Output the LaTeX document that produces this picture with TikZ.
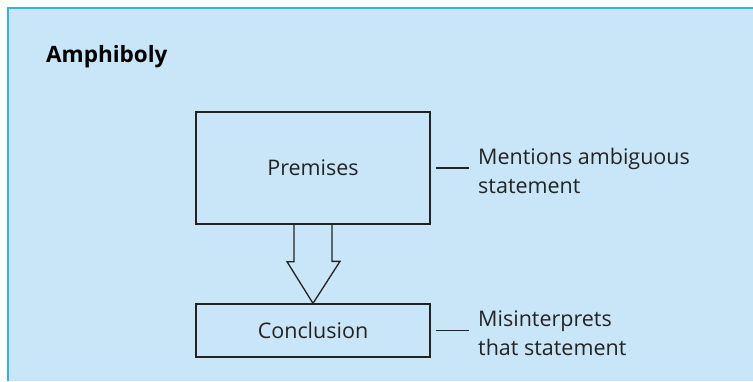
\documentclass[tikz,border=0pt]{standalone}
\usepackage{fontspec}
\setmainfont{Open Sans}
\usepackage{tikz}
\usepackage{color}
\definecolor{panelblue}{RGB}{201,230,248}
\definecolor{rimblue}{RGB}{45,180,235}
\definecolor{ink}{RGB}{35,35,35}

\begin{document}
\begin{tikzpicture}[x=1pt, y=-1pt,
		stage/.style={rectangle, draw=ink, line width=1.3pt, minimum width=234pt, inner sep=0pt, text=ink, font=\fontsize{21.5}{28.5}\selectfont},
		note/.style={anchor=base west, align=left, inner sep=0pt, text=ink, font=\fontsize{21.5}{28.5}\selectfont},
		title/.style={anchor=base west, inner sep=0pt, text=black, font=\fontsize{22.5}{26}\selectfont\bfseries},
		tie/.style={draw=ink, line width=1.3pt},
		hollow/.style={draw=ink, line width=1.3pt, line join=miter}]
		\useasboundingbox (0,0) rectangle (753,381);
		\fill[panelblue] (8,8) rectangle (753,381);
		\draw[rimblue, line width=2pt] (753,8) -- (8,8) -- (8,381);
		\node[title] (head) at (46,62) {Amphiboly};
		\node[stage, minimum height=112pt] (prem) at (313,168) {Premises};
		\node[stage, minimum height=53pt] (concl) at (313,330.5) {Conclusion};
		% base anchor sits on the last line
		\node[note] (ment) at (478,193) {Mentions ambiguous\\statement};
		\node[note] (mis) at (478,355) {Misinterprets\\that statement};
		
		\draw[hollow] ([xshift=-19pt]prem.south) -- ++(0,37) -- ++(-7,0) -- (concl.north) -- ++(27,-42) -- ++(-8,0) -- ([xshift=19pt]prem.south);
		\draw[tie] ([xshift=5pt]prem.east) -- ([xshift=-9pt]ment.west |- prem.east);
		\draw[tie] ([xshift=5pt]concl.east) -- ([xshift=-9pt]mis.west |- concl.east);
		
	\end{tikzpicture}
\end{document}
